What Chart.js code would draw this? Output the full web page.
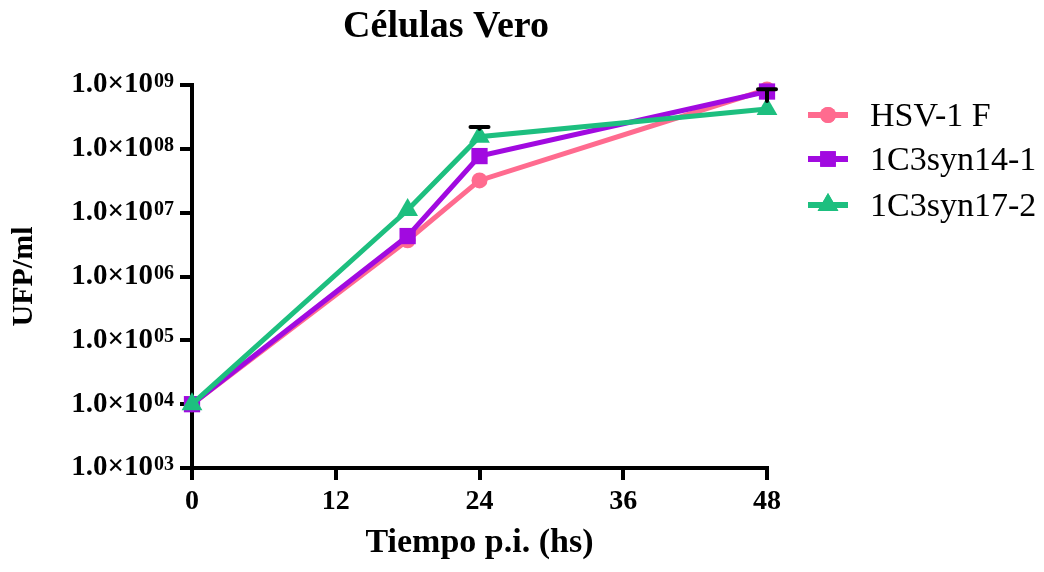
<!DOCTYPE html>
<html>
<head>
<meta charset="utf-8">
<script src="https://cdn.jsdelivr.net/npm/chart.js@4/dist/chart.umd.min.js"></script>
<style>
  html, body { margin: 0; padding: 0; background: #fff; }
</style>
</head>
<body>
<canvas id="chart" width="1044" height="572"></canvas>
<script>
// horas post infección y títulos (UFP/ml)
const hours = [0, 18, 24, 48];
const hsv1F = [1e4, 3.7e6, 3.2e7, 8.5e8];
const syn14 = [1e4, 4.3e6, 7.7e7, 7.9e8];
const syn17 = [1e4, 1.1e7, 1.55e8, 4.2e8];
// extremo superior de la barra de error (solo 1C3syn17-2)
const syn17Upper = [null, null, 2.2e8, 8.6e8];

const seriesNames = ['HSV-1 F', '1C3syn14-1', '1C3syn17-2'];
const seriesColors = ['#ff6b8f', '#a10ae0', '#1dbf7f'];
const xTicks = [0, 12, 24, 36, 48];
const yExponents = [3, 4, 5, 6, 7, 8, 9];

const FONT = "'Liberation Serif', 'Times New Roman', serif";

function pts(ys) {
  return hours.map((h, i) => ({ x: h, y: ys[i] }));
}

// exponentes en superíndice al lado de "1.0×10"
const superscripts = {
  id: 'superscripts',
  afterDraw(chart) {
    const y = chart.scales.y;
    const ctx = chart.ctx;
    const right = y.right - y.options.grid.tickLength - y.options.ticks.padding;
    ctx.save();
    ctx.fillStyle = '#000';
    ctx.font = 'bold 20px ' + FONT;
    ctx.textAlign = 'left';
    ctx.textBaseline = 'alphabetic';
    y.ticks.forEach(t => {
      const py = y.getPixelForValue(t.value);
      const e = Math.round(Math.log10(t.value));
      ctx.fillText(String(e).padStart(2, '0'), right + 1, py + 2);
    });
    ctx.restore();
  }
};

// barras de error en negro
const errorBars = {
  id: 'errorBars',
  afterDatasetsDraw(chart) {
    const { x, y } = chart.scales;
    const ctx = chart.ctx;
    ctx.save();
    ctx.strokeStyle = '#000';
    ctx.lineWidth = 4;
    ctx.lineCap = 'round';
    hours.forEach((h, i) => {
      if (syn17Upper[i] == null) return;
      const px = x.getPixelForValue(h);
      const p0 = y.getPixelForValue(syn17[i]);
      const p1 = y.getPixelForValue(syn17Upper[i]);
      ctx.beginPath();
      ctx.moveTo(px, p0 - 8);
      ctx.lineTo(px, p1);
      ctx.moveTo(px - 9, p1);
      ctx.lineTo(px + 9, p1);
      ctx.stroke();
    });
    ctx.restore();
  }
};

// título y leyenda dibujados a mano
const extras = {
  id: 'extras',
  afterDraw(chart) {
    const ctx = chart.ctx;
    ctx.save();
    ctx.fillStyle = '#000';
    ctx.font = 'bold 38px ' + FONT;
    ctx.textAlign = 'center';
    ctx.textBaseline = 'alphabetic';
    ctx.fillText('Células Vero', 446, 37);

    const rows = [115, 159, 205];
    const styles = ['circle', 'rect', 'triangle'];
    const radii = [8, 11, 12];
    ctx.font = '34px ' + FONT;
    ctx.textAlign = 'left';
    ctx.textBaseline = 'middle';
    rows.forEach((ry, i) => {
      ctx.strokeStyle = seriesColors[i];
      ctx.lineWidth = 6;
      ctx.beginPath();
      ctx.moveTo(808, ry);
      ctx.lineTo(848, ry);
      ctx.stroke();
      ctx.fillStyle = seriesColors[i];
      Chart.helpers.drawPoint(ctx, { pointStyle: styles[i], radius: radii[i], borderWidth: 0 }, 828, ry);
      ctx.fill();
      ctx.fillStyle = '#000';
      ctx.fillText(seriesNames[i], 870, ry + 2);
    });
    ctx.restore();
  }
};

const ctx = document.getElementById('chart').getContext('2d');
new Chart(ctx, {
  type: 'line',
  data: {
    datasets: [
      { label: seriesNames[0], data: pts(hsv1F), borderColor: seriesColors[0], backgroundColor: seriesColors[0],
        pointStyle: 'circle', pointRadius: 8, order: 3 },
      { label: seriesNames[1], data: pts(syn14), borderColor: seriesColors[1], backgroundColor: seriesColors[1],
        pointStyle: 'rect', pointRadius: 11.5, order: 2 },
      { label: seriesNames[2], data: pts(syn17), borderColor: seriesColors[2], backgroundColor: seriesColors[2],
        pointStyle: 'triangle', pointRadius: 12, order: 1 }
    ].map(d => Object.assign(d, { borderWidth: 5, pointBorderWidth: 0, tension: 0, clip: false }))
  },
  options: {
    responsive: false,
    animation: false,
    events: [],
    layout: { padding: { top: 85, right: 277, bottom: 0, left: 0 } },
    plugins: { legend: { display: false }, title: { display: false }, tooltip: { enabled: false } },
    scales: {
      x: {
        type: 'linear',
        min: 0, max: 48,
        afterBuildTicks: s => { s.ticks = xTicks.map(v => ({ value: v })); },
        afterFit: s => { s.height = 104; },
        border: { display: true, width: 4, color: '#000' },
        grid: { drawOnChartArea: false, drawTicks: true, tickLength: 12, lineWidth: 4, color: '#000' },
        ticks: { color: '#000', font: { family: FONT, size: 28, weight: 'bold' }, padding: 5, maxRotation: 0 },
        title: { display: true, text: 'Tiempo p.i. (hs)', color: '#000',
                 font: { family: FONT, size: 34, weight: 'bold' }, padding: { top: 0, bottom: 8 } }
      },
      y: {
        type: 'logarithmic',
        min: 1e3, max: 1e9,
        afterBuildTicks: s => { s.ticks = yExponents.map(e => ({ value: Math.pow(10, e) })); },
        afterFit: s => { s.width = 192; },
        border: { display: true, width: 4, color: '#000' },
        grid: { drawOnChartArea: false, drawTicks: true, tickLength: 12, lineWidth: 4, color: '#000' },
        ticks: { color: '#000', font: { family: FONT, size: 29, weight: 'bold' }, padding: 27,
                 callback: () => '1.0×10' },
        title: { display: true, text: 'UFP/ml', color: '#000',
                 font: { family: FONT, size: 30, weight: 'bold' }, padding: { top: 6, bottom: 0 } }
      }
    }
  },
  plugins: [errorBars, superscripts, extras]
});
</script>
</body>
</html>
